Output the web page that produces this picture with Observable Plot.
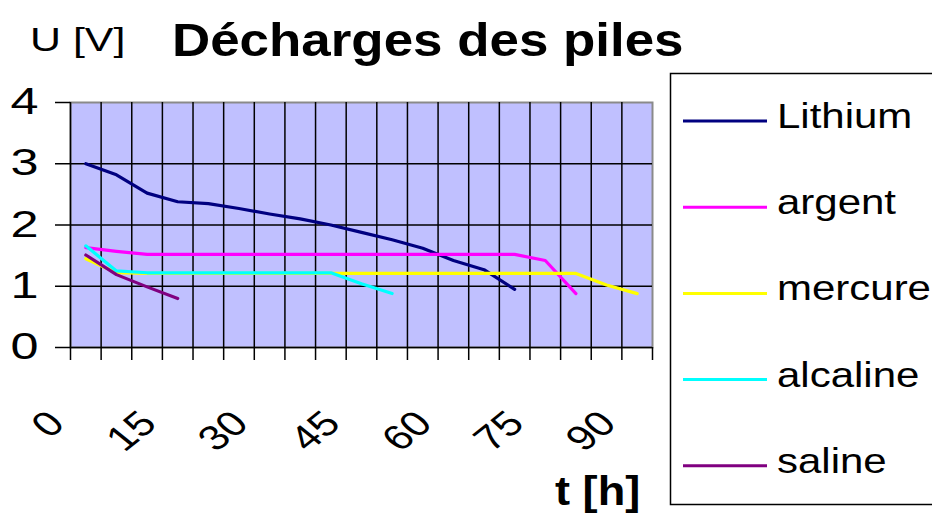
<!DOCTYPE html>
<html>
<head>
<meta charset="utf-8">
<script src="https://cdn.jsdelivr.net/npm/d3@7"></script>
<script src="https://cdn.jsdelivr.net/npm/@observablehq/plot@0.6"></script>
<style>
html, body { margin: 0; padding: 0; background: #fff; }
#wrap { position: relative; width: 932px; height: 515px; overflow: hidden; font-family: "Liberation Sans", Arial, sans-serif; }
#chart { position: absolute; left: 0; top: 0; }
#overlay { position: absolute; left: 0; top: 0; pointer-events: none; }
</style>
</head>
<body>
<div id="wrap">
  <div id="chart"></div>
  <svg id="overlay" width="932" height="515"></svg>
</div>
<script>
// ---- data ----
const times = [0, 5, 10, 15, 20, 25, 30, 35, 40, 45, 50, 55, 60, 65, 70, 75, 80, 85, 90];
const series = ["Lithium", "argent", "mercure", "alcaline", "saline"];
const colors = ["#000080", "#FF00FF", "#FFFF00", "#00FFFF", "#800080"];
const lithium  = [3.00, 2.82, 2.52, 2.38, 2.35, 2.27, 2.18, 2.10, 2.00, 1.88, 1.76, 1.62, 1.42, 1.27, 0.95];
const argent   = [1.63, 1.57, 1.52, 1.52, 1.52, 1.52, 1.52, 1.52, 1.52, 1.52, 1.52, 1.52, 1.52, 1.52, 1.52, 1.42, 0.88];
const mercure  = [1.45, 1.22, 1.21, 1.21, 1.21, 1.21, 1.21, 1.21, 1.21, 1.21, 1.21, 1.21, 1.21, 1.21, 1.21, 1.21, 1.21, 1.02, 0.88];
const alcaline = [1.66, 1.25, 1.22, 1.22, 1.22, 1.22, 1.22, 1.22, 1.22, 1.04, 0.88];
const saline   = [1.51, 1.19, 0.99, 0.80];
const yTicks = [0, 1, 2, 3, 4];
const xLabels = [0, 15, 30, 45, 60, 75, 90];
const xBounds = [-2.5, 2.5, 7.5, 12.5, 17.5, 22.5, 27.5, 32.5, 37.5, 42.5, 47.5, 52.5, 57.5, 62.5, 67.5, 72.5, 77.5, 82.5, 87.5, 92.5];
const title = "Décharges des piles";
const yTitle = "U [V]";
const xTitle = "t [h]";

const valueArrays = [lithium, argent, mercure, alcaline, saline];
const rows = series.flatMap((s, i) => valueArrays[i].map((u, k) => ({t: times[k], u, s})));

const font = "'Liberation Sans', Arial, sans-serif";

const plot = Plot.plot({
  width: 932,
  height: 515,
  marginLeft: 70,
  marginRight: 280,
  marginTop: 102,
  marginBottom: 168,
  x: {domain: [xBounds[0], xBounds[xBounds.length - 1]]},
  y: {domain: [yTicks[0], yTicks[yTicks.length - 1]]},
  color: {domain: series, range: colors},
  style: {fontFamily: font, background: "transparent", color: "#000", overflow: "visible"},
  marks: [
    Plot.frame({fill: "#C0C0FF", stroke: "#8a8a8a", strokeWidth: 2}),
    Plot.gridX(xBounds.slice(1, -1), {stroke: "#000", strokeOpacity: 1, strokeWidth: 1.5}),
    Plot.gridY(yTicks.slice(1, -1), {stroke: "#000", strokeOpacity: 1, strokeWidth: 1.5}),
    Plot.ruleX([xBounds[0]], {stroke: "#000", strokeWidth: 1.5}),
    Plot.ruleY([yTicks[0]], {stroke: "#000", strokeWidth: 1.5}),
    Plot.axisY(yTicks, {tickSize: 15, tickPadding: 17, fontSize: 36, tickFormat: d => String(d), label: null, strokeWidth: 1.5}),
    Plot.axisX(xBounds, {tickSize: 13, tickFormat: () => "", label: null, strokeWidth: 1.5}),
    Plot.line(rows, {x: "t", y: "u", z: "s", stroke: "s", strokeWidth: 3.2}),
    Plot.text(xLabels, {x: d => d, y: yTicks[0], text: d => String(d), rotate: -45, textAnchor: "end", dx: -29, dy: 70, fontSize: 35})
  ]
});
document.getElementById("chart").appendChild(plot);

// widen y tick labels (the reference is horizontally stretched)
plot.querySelectorAll('g[aria-label="y-axis tick label"] text').forEach(el => {
  const tr = el.getAttribute("transform") || "";
  el.setAttribute("transform", tr + " scale(1.4,1)");
});
// widen the rotated x labels horizontally too
plot.querySelectorAll('g[aria-label="text"] text').forEach(el => {
  const tr = el.getAttribute("transform") || "";
  if (tr.includes("rotate")) el.setAttribute("transform", tr.replace("rotate", "scale(1.25,1) rotate"));
});

// ---- overlay: title, axis titles, legend ----
const ov = d3.select("#overlay");
ov.append("text").attr("transform", "translate(30,51) scale(1.3,1)")
  .attr("font-family", font).attr("font-size", 33).text(yTitle);
ov.append("text").attr("transform", "translate(172,56) scale(1.15,1)")
  .attr("font-family", font).attr("font-size", 46).attr("font-weight", "bold").text(title);
ov.append("text").attr("transform", "translate(555,505) scale(1.13,1)")
  .attr("font-family", font).attr("font-size", 40).attr("font-weight", "bold").text(xTitle);

ov.append("rect").attr("x", 670.5).attr("y", 73.5).attr("width", 300).attr("height", 431)
  .attr("fill", "#fff").attr("stroke", "#000").attr("stroke-width", 1.5);
series.forEach((s, i) => {
  const y = 121 + i * 86.2;
  ov.append("line").attr("x1", 683).attr("x2", 767).attr("y1", y).attr("y2", y)
    .attr("stroke", colors[i]).attr("stroke-width", 3);
  ov.append("text").attr("transform", `translate(777,${y + 7}) scale(1.2,1)`)
    .attr("font-family", font).attr("font-size", 35).text(s);
});
</script>
</body>
</html>
